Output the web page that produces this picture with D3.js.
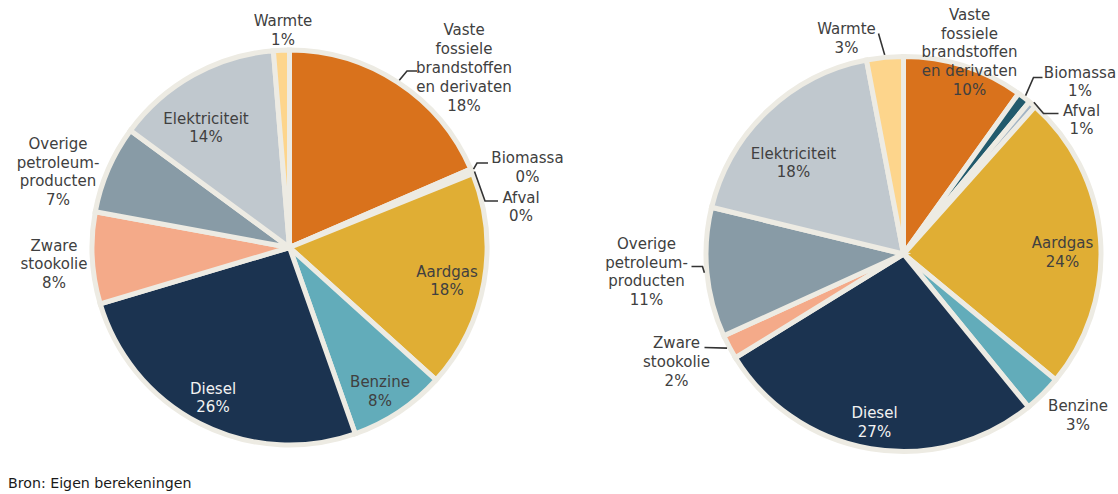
<!DOCTYPE html>
<html>
<head>
<meta charset="utf-8">
<script src="https://cdn.jsdelivr.net/npm/d3@7"></script>
<style>
  html, body { margin: 0; padding: 0; background: #ffffff; }
  svg { display: block; }
  text { font-family: "DejaVu Sans", sans-serif; }
</style>
</head>
<body>
<svg id="chart" width="1118" height="494"></svg>
<script>
// ---- DATA ----
const categories = [
  "Vaste\nfossiele\nbrandstoffen\nen derivaten",
  "Biomassa",
  "Afval",
  "Aardgas",
  "Benzine",
  "Diesel",
  "Zware\nstookolie",
  "Overige\npetroleum-\nproducten",
  "Elektriciteit",
  "Warmte"
];
const leftValues  = [18.5, 0.2, 0.2, 17.8, 7.9, 25.8, 7.5, 7.2, 13.6, 1.3];
const leftLabels  = ["18%", "0%", "0%", "18%", "8%", "26%", "8%", "7%", "14%", "1%"];
const rightValues = [9.9, 1.1, 0.6, 24.4, 3.1, 27.1, 2.0, 10.6, 18.2, 3.0];
const rightLabels = ["10%", "1%", "1%", "24%", "3%", "27%", "2%", "11%", "18%", "3%"];
const colors = ["#D9721C", "#215A6C", "#A3B4C4", "#E0AE34", "#62ACBA",
                "#1B3350", "#F4AA89", "#889BA6", "#C0C8CE", "#FDD58C"];
const source = "Bron: Eigen berekeningen";

// ---- LAYOUT (label anchors / leader elbows relative to pie centre) ----
const leftLayout = {
  cx: 289.5, cy: 247.5, r: 197.5,
  labels: [[174.5,-180],[238,-80.5],[231.5,-41],[157.5,33],[90.5,143.5],
           [-76.5,150],[-235.5,16.5],[-231.5,-76],[-83.5,-120],[-6.5,-217.5]],
  leaders: { 0: [[117.5,-176.5],[127.5,-176.5]],
             1: [[187.5,-84.5],[198.5,-84.5]],
             2: [[195.5,-46.5],[208.5,-46.5]] }
};
const rightLayout = {
  cx: 903.5, cy: 254, r: 197.5,
  labels: [[66,-202],[176.5,-172.5],[178,-134.5],[159,-2],[174.5,161],
           [-29,168],[-227,107.5],[-257,17.5],[-110,-91.5],[-57,-216]],
  leaders: { 9: [[-25,-220.5]],
             1: [[130,-176.5],[139,-176.5]],
             2: [[140,-140.5],[155,-140.5]],
             6: [[-199,93.5]],
             7: [[-201,12.5],[-212,12.5]] }
};

const svg = d3.select("#chart");
const lineH = 18.8;
const fontSize = 15;

function drawPie(values, pctLabels, layout) {
  const g = svg.append("g").attr("transform", `translate(${layout.cx},${layout.cy})`);
  const pie = d3.pie().sort(null).value(d => d);
  const arcs = pie(values);
  const arc = d3.arc().innerRadius(0).outerRadius(layout.r);

  g.selectAll("path.slice").data(arcs).join("path")
    .attr("class", "slice")
    .attr("d", arc)
    .attr("fill", (d, i) => colors[i])
    .attr("stroke", "#EDEBE3")
    .attr("stroke-width", 5)
    .attr("stroke-linejoin", "miter");

  // leaders
  Object.keys(layout.leaders).forEach(k => {
    const i = +k;
    const a = (arcs[i].startAngle + arcs[i].endAngle) / 2;
    const re = layout.r + 2.5;
    const pts = [[re * Math.sin(a), -re * Math.cos(a)], ...layout.leaders[k]];
    g.append("path")
      .attr("d", d3.line()(pts))
      .attr("fill", "none")
      .attr("stroke", "#333333")
      .attr("stroke-width", 1.6);
  });

  // labels
  arcs.forEach((d, i) => {
    const lines = categories[i].split("\n").concat([pctLabels[i]]);
    const [lx, ly] = layout.labels[i];
    const y0 = ly - (lines.length - 1) * lineH / 2;
    const t = g.append("text")
      .attr("text-anchor", "middle")
      .attr("font-size", fontSize)
      .attr("fill", i === 5 ? "#F2F2F2" : "#404040");
    lines.forEach((ln, j) => {
      t.append("tspan")
        .attr("x", lx)
        .attr("y", y0 + j * lineH)
        .attr("dy", "0.36em")
        .text(ln);
    });
  });
}

drawPie(leftValues, leftLabels, leftLayout);
drawPie(rightValues, rightLabels, rightLayout);

svg.append("text")
  .attr("x", 8)
  .attr("y", 483)
  .attr("dy", "0.36em")
  .attr("font-size", 14.2)
  .attr("fill", "#1a1a1a")
  .text(source);
</script>
</body>
</html>
